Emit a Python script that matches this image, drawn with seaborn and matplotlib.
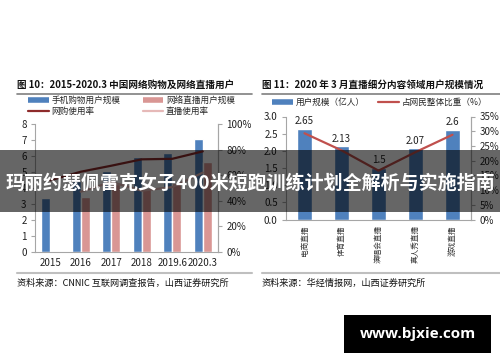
import numpy as np
import pandas as pd
import seaborn as sns
from matplotlib import pyplot as plt
from matplotlib.lines import Line2D
from matplotlib.patches import Rectangle

# left chart data
years = ["2015", "2016", "2017", "2018", "2019.6", "2020.3"]
mobileShop = [3.40, 4.41, 5.06, 5.92, 6.21, 7.07]
liveUsers = [np.nan, 3.44, 4.22, 3.97, 4.33, 5.60]
shopRate = [56.0, 62.7, 67.4, 72.4, 72.8, 78.6]
liveRate = [np.nan, 47.1, 54.7, 47.9, 50.7, 62.0]

# right chart data
fields = ["电商直播", "体育直播", "演唱会直播", "真人秀直播", "游戏直播"]
fieldUsers = [2.65, 2.13, 1.5, 2.07, 2.6]
fieldShare = [29.3, 23.5, 16.6, 22.9, 28.8]

blue = "#4F81BD"
pink = "#D99694"
darkRed = "#8E2B2B"
lightPink = "#E6B9B8"
red = "#C0504D"
gray = "#A6A6A6"

sns.set_style("white")
plt.rcParams['font.family'] = ['Noto Sans CJK SC', 'DejaVu Sans']
plt.rcParams['axes.edgecolor'] = gray
plt.rcParams['xtick.color'] = gray
plt.rcParams['ytick.color'] = gray
plt.rcParams['xtick.labelcolor'] = "#222222"
plt.rcParams['ytick.labelcolor'] = "#222222"

W, H = 500, 362
fig = plt.figure(figsize=(5, 3.62), dpi=100)


def fx(px):
    return px / W


def fy(py):
    return 1 - py / H


def styleAxis(ax, n):
    ax.set_xlim(-0.5, n - 0.5)
    ax.set_xticks(np.arange(n))
    ax.set_xticks(np.arange(n + 1) - 0.5, minor=True)
    ax.tick_params(axis='x', which='major', length=0, pad=4)
    ax.tick_params(axis='x', which='minor', length=3, width=0.8, direction='out')
    ax.tick_params(axis='y', length=3, width=0.8, direction='out', labelsize=7, pad=3)
    ax.spines['top'].set_visible(False)
    for s in ['left', 'bottom', 'right']:
        ax.spines[s].set_linewidth(0.8)
    ax.set_xlabel("")
    ax.set_ylabel("")


# ---------- left chart ----------
ax1 = fig.add_axes([fx(35), fy(252), fx(218 - 35), (252 - 124) / H])
df = pd.DataFrame({
    'year': years * 2,
    'val': mobileShop + liveUsers,
    'series': ['手机购物用户规模'] * 6 + ['网络直播用户规模'] * 6,
})
sns.barplot(data=df, x='year', y='val', hue='series', palette=[blue, pink],
            width=0.6, saturation=1, legend=False, ax=ax1)
ax1.set_ylim(0, 8)
ax1.set_yticks(range(0, 9))
styleAxis(ax1, 6)
ax1.set_xticklabels(years, fontsize=7)

ax1b = ax1.twinx()
idx = np.arange(6)
sns.lineplot(x=idx, y=shopRate, color=darkRed, lw=1.6, ax=ax1b)
sns.lineplot(x=idx, y=liveRate, color=lightPink, lw=1.6, ax=ax1b)
ax1b.set_ylim(0, 100)
ax1b.set_yticks(range(0, 101, 20))
ax1b.set_yticklabels([f"{v}%" for v in range(0, 101, 20)])
styleAxis(ax1b, 6)
ax1b.spines['left'].set_visible(False)
ax1b.spines['bottom'].set_visible(False)

h1 = [Line2D([], [], color=blue, lw=4, solid_capstyle='butt'),
      Line2D([], [], color=darkRed, lw=1.6),
      Line2D([], [], color=pink, lw=4, solid_capstyle='butt'),
      Line2D([], [], color=lightPink, lw=1.6)]
l1 = ['手机购物用户规模', '网购使用率', '网络直播用户规模', '直播使用率']
fig.legend(h1, l1, loc='upper left', bbox_to_anchor=(fx(28), fy(96)), ncol=2,
           frameon=False, fontsize=6.2, handlelength=2.4, handletextpad=0.3,
           columnspacing=2.6, labelspacing=0.25, borderaxespad=0, borderpad=0)

# ---------- right chart ----------
ax2 = fig.add_axes([fx(286), fy(219.5), fx(471 - 286), (219.5 - 116.5) / H])
sns.barplot(x=fields, y=fieldUsers, color=blue, width=0.38, saturation=1, ax=ax2)
ax2.set_ylim(0, 3.0)
ax2.set_yticks(np.arange(0, 3.01, 0.5))
ax2.set_yticklabels([f"{v:.1f}" for v in np.arange(0, 3.01, 0.5)])
styleAxis(ax2, 5)
ax2.set_xticklabels(fields, rotation=90, fontsize=5.5, va='top', color="#333333")
ax2.bar_label(ax2.containers[0], labels=[f"{v:g}" for v in fieldUsers],
              padding=2, fontsize=7, color="#222222")

ax2b = ax2.twinx()
sns.lineplot(x=np.arange(5), y=fieldShare, color=red, lw=1.6, ax=ax2b)
ax2b.set_ylim(0, 35)
ax2b.set_yticks(range(0, 36, 5))
ax2b.set_yticklabels([f"{v}%" for v in range(0, 36, 5)])
styleAxis(ax2b, 5)
ax2b.spines['left'].set_visible(False)
ax2b.spines['bottom'].set_visible(False)

h2 = [Line2D([], [], color=blue, lw=4, solid_capstyle='butt'),
      Line2D([], [], color=red, lw=1.6)]
l2 = ['用户规模（亿人）', '占网民整体比重（%）']
fig.legend(h2, l2, loc='upper left', bbox_to_anchor=(fx(272), fy(98)), ncol=2,
           frameon=False, fontsize=6.2, handlelength=2.4, handletextpad=0.3,
           columnspacing=1.6, borderaxespad=0, borderpad=0)

# ---------- titles, rules, sources ----------
fig.text(fx(17), fy(85), "图 10：2015-2020.3 中国网络购物及网络直播用户",
         fontsize=6.9, weight='bold', va='center', color="#111111")
fig.text(fx(262), fy(85), "图 11：2020 年 3 月直播细分内容领域用户规模情况",
         fontsize=6.9, weight='bold', va='center', color="#111111")
for x0, x1 in [(17, 252), (262, 500)]:
    fig.add_artist(Line2D([fx(x0), fx(x1)], [fy(93.5)] * 2, color="#7F7F7F", lw=1.2))
    fig.add_artist(Line2D([fx(x0), fx(x1)], [fy(273)] * 2, color="#BFBFBF", lw=1.5))
fig.text(fx(17), fy(283), "资料来源：CNNIC 互联网调查报告，山西证券研究所",
         fontsize=6.6, va='center', color="#111111")
fig.text(fx(262), fy(283), "资料来源：华经情报网，山西证券研究所",
         fontsize=6.6, va='center', color="#111111")

# ---------- overlay banner and watermark ----------
fig.add_artist(Rectangle((0, fy(212)), 1, 62 / H, transform=fig.transFigure,
                         color='black', alpha=0.6, lw=0, zorder=10))
fig.text(0.5, fy(183), "玛丽约瑟佩雷克女子400米短跑训练计划全解析与实施指南",
         fontsize=13.7, weight='bold', color='white', ha='center', va='center',
         zorder=11)
fig.add_artist(Rectangle((fx(344), fy(353)), fx(491 - 344), 38 / H,
                         transform=fig.transFigure, color='black', lw=0, zorder=10))
fig.text(fx(417.5), fy(334), "www.bjxie.com", fontsize=11, weight='bold',
         color='white', ha='center', va='center', family='Open Sans', zorder=11)

fig.savefig("out.png", dpi=100)
plt.close()
